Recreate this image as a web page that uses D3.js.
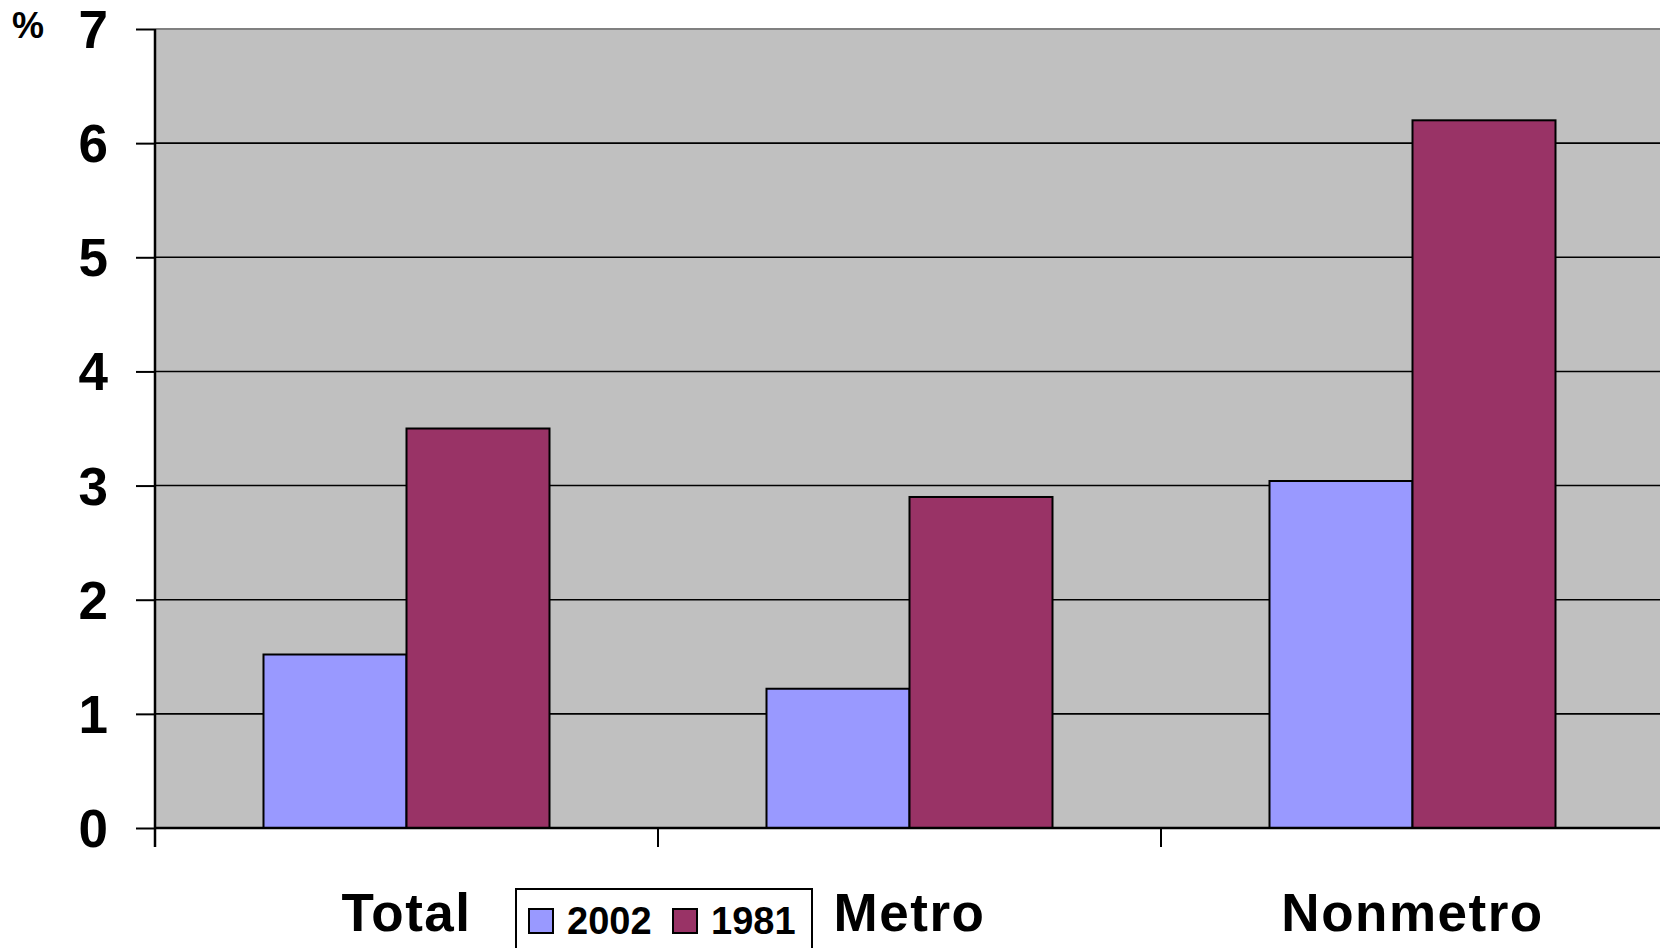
<!DOCTYPE html>
<html>
<head>
<meta charset="utf-8">
<script src="https://cdn.jsdelivr.net/npm/d3@7"></script>
<style>
  html, body { margin: 0; padding: 0; background: #fff; }
  svg { display: block; }
  text { font-family: "Liberation Sans", Arial, sans-serif; font-weight: bold; fill: #000; }
</style>
</head>
<body>
<svg id="chart" width="1660" height="948"></svg>
<script>
const categories = ["Total", "Metro", "Nonmetro"];
const seriesNames = ["2002", "1981"];
const values2002 = [1.52, 1.22, 3.04];
const values1981 = [3.5, 2.9, 6.2];
const yTicks = [0, 1, 2, 3, 4, 5, 6, 7];
const colors = ["#9999FF", "#993366"];

const svg = d3.select("#chart");
const pLeft = 155, pRight = 1664, pTop = 29, pBottom = 828;

const x0 = d3.scaleBand().domain(categories).range([pLeft, pRight]).padding(0);
const gap = x0.bandwidth() * 0.2157;
const x1 = d3.scaleBand().domain(seriesNames).range([gap, x0.bandwidth() - gap]).padding(0);
const y = d3.scaleLinear().domain([0, 7]).range([pBottom, pTop]);

// plot background
svg.append("rect").attr("x", pLeft).attr("y", pTop)
  .attr("width", pRight - pLeft).attr("height", pBottom - pTop).attr("fill", "#C0C0C0");

// top border
svg.append("line").attr("x1", pLeft).attr("x2", pRight).attr("y1", pTop).attr("y2", pTop)
  .attr("stroke", "#808080").attr("stroke-width", 2);

// gridlines
svg.append("g").selectAll("line").data(yTicks.filter(d => d > 0 && d < 7)).join("line")
  .attr("x1", pLeft).attr("x2", pRight)
  .attr("y1", d => y(d)).attr("y2", d => y(d))
  .attr("stroke", "#000").attr("stroke-width", 1.6);

// bars
const data = categories.map((c, i) => ({ cat: c, vals: [values2002[i], values1981[i]] }));
const groups = svg.append("g").selectAll("g").data(data).join("g")
  .attr("transform", d => `translate(${x0(d.cat)},0)`);
groups.selectAll("rect").data(d => d.vals.map((v, j) => ({ s: seriesNames[j], v, j }))).join("rect")
  .attr("x", d => x1(d.s)).attr("width", x1.bandwidth())
  .attr("y", d => y(d.v)).attr("height", d => y(0) - y(d.v))
  .attr("fill", d => colors[d.j]).attr("stroke", "#000").attr("stroke-width", 2);

// y axis
const yAxis = svg.append("g").attr("transform", `translate(${pLeft},0)`)
  .call(d3.axisLeft(y).tickValues(yTicks).tickSize(19).tickPadding(28).tickFormat(d3.format("d")));
yAxis.select(".domain").attr("stroke", "#000").attr("stroke-width", 2.5)
  .attr("d", `M0,${pTop}V${pBottom + 19}`);
yAxis.selectAll(".tick line").attr("stroke", "#000").attr("stroke-width", 2);
yAxis.selectAll(".tick text").attr("font-size", 53).attr("font-family", "Liberation Sans, Arial, sans-serif")
  .attr("font-weight", "bold").attr("fill", "#000").attr("dy", "0.35em");

// x axis
const catTicks = categories.map(c => x0(c));
const xAxis = svg.append("g");
xAxis.append("line").attr("x1", pLeft).attr("x2", pRight).attr("y1", pBottom).attr("y2", pBottom)
  .attr("stroke", "#000").attr("stroke-width", 2.5);
xAxis.selectAll("line.tk").data(catTicks).join("line").attr("class", "tk")
  .attr("x1", d => d).attr("x2", d => d).attr("y1", pBottom).attr("y2", pBottom + 19)
  .attr("stroke", "#000").attr("stroke-width", 2);
xAxis.selectAll("text").data(categories).join("text")
  .attr("x", d => x0(d) + x0.bandwidth() / 2).attr("y", 931)
  .attr("text-anchor", "middle").attr("font-size", 53).attr("letter-spacing", 1.5)
  .text(d => d);

// % label
svg.append("text").attr("x", 12).attr("y", 38).attr("font-size", 36).text("%");

// legend
const lg = svg.append("g");
lg.append("rect").attr("x", 516).attr("y", 889).attr("width", 296).attr("height", 80)
  .attr("fill", "#fff").attr("stroke", "#000").attr("stroke-width", 2);
const legendX = [529, 673];
seriesNames.forEach((s, i) => {
  lg.append("rect").attr("x", legendX[i]).attr("y", 909).attr("width", 24).attr("height", 24)
    .attr("fill", colors[i]).attr("stroke", "#000").attr("stroke-width", 2);
  lg.append("text").attr("x", legendX[i] + 38).attr("y", 934).attr("font-size", 38).text(s);
});
</script>
</body>
</html>
